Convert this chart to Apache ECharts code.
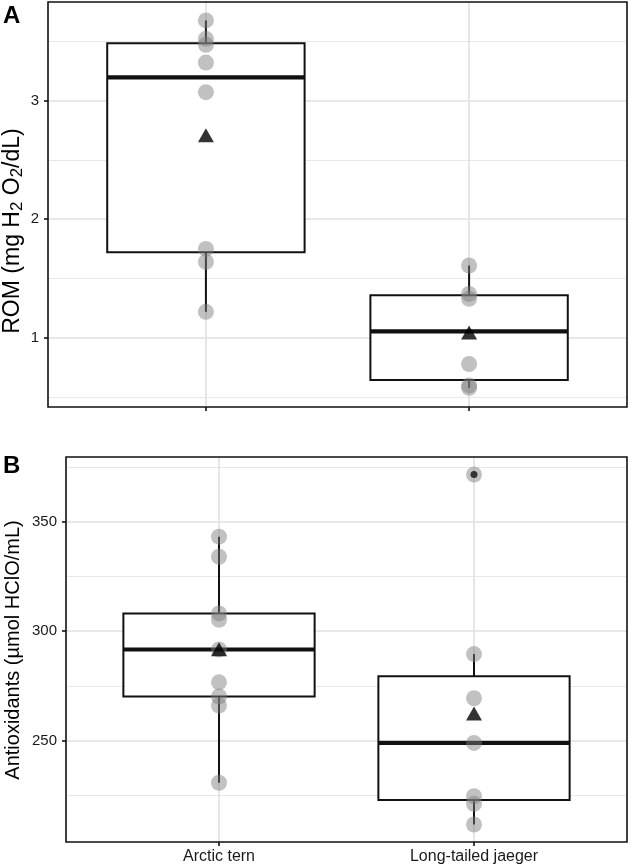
<!DOCTYPE html>
<html>
<head>
<meta charset="utf-8">
<script src="https://cdn.jsdelivr.net/npm/echarts@6/dist/echarts.min.js"></script>
<style>
html,body{margin:0;padding:0;background:#fff;}
#chart{width:633px;height:868px;}
</style>
</head>
<body>
<div id="chart"></div>
<script>
// ---- data ----
const categories = ['Arctic tern', 'Long-tailed jaeger'];
const romTern = [3.675, 3.52, 3.47, 3.32, 3.07, 1.75, 1.64, 1.22];
const romJaeger = [1.61, 1.37, 1.33, 0.78, 0.60, 0.58];
const antiTern = [343.2, 334.0, 308.1, 305.2, 291.6, 276.6, 270.1, 266.0, 230.7];
const antiJaeger = [371.6, 289.5, 269.3, 248.9, 224.5, 221.1, 211.6];
const romTicks = [1, 2, 3];
const romMinor = [0.5, 1.5, 2.5, 3.5];
const antiTicks = [250, 300, 350];
const antiMinor = [225, 275, 325, 375];
const romRange = [0.418, 3.83];
const antiRange = [203.6, 379.6];
const catPos = [1, 2];
const catRange = [0.4, 2.6];

// ---- box statistics (R type-7 quantiles, Tukey whiskers) ----
function quant(s, p) {
  const h = (s.length - 1) * p, lo = Math.floor(h);
  const hi = Math.min(lo + 1, s.length - 1);
  return s[lo] + (h - lo) * (s[hi] - s[lo]);
}
function stats(vals, x) {
  const s = vals.slice().sort((a, b) => a - b);
  const q1 = quant(s, 0.25), med = quant(s, 0.5), q3 = quant(s, 0.75);
  const iqr = q3 - q1;
  const inside = s.filter(v => v >= q1 - 1.5 * iqr && v <= q3 + 1.5 * iqr);
  const out = s.filter(v => v < q1 - 1.5 * iqr || v > q3 + 1.5 * iqr);
  const mean = s.reduce((a, b) => a + b, 0) / s.length;
  return { box: [x, q1, med, q3, inside[0], inside[inside.length - 1]], out: out.map(v => [x, v]), mean: [x, mean] };
}

const FONT = "'Liberation Sans', Arial, Helvetica, sans-serif";
const INK = '#111';

function boxRender(params, api) {
  const x = api.value(0);
  const q1 = api.value(1), med = api.value(2), q3 = api.value(3), lo = api.value(4), hi = api.value(5);
  const w = api.size([0.75, 0])[0];
  const pQ3 = api.coord([x, q3]), pQ1 = api.coord([x, q1]), pM = api.coord([x, med]);
  const pLo = api.coord([x, lo]), pHi = api.coord([x, hi]);
  const left = pQ3[0] - w / 2;
  return {
    type: 'group',
    children: [
      { type: 'line', shape: { x1: pHi[0], y1: pHi[1], x2: pQ3[0], y2: pQ3[1] }, style: { stroke: INK, lineWidth: 2 } },
      { type: 'line', shape: { x1: pLo[0], y1: pLo[1], x2: pQ1[0], y2: pQ1[1] }, style: { stroke: INK, lineWidth: 2 } },
      { type: 'rect', shape: { x: left, y: pQ3[1], width: w, height: pQ1[1] - pQ3[1] }, style: { fill: '#fff', stroke: INK, lineWidth: 2 } },
      { type: 'line', shape: { x1: left, y1: pM[1], x2: left + w, y2: pM[1] }, style: { stroke: INK, lineWidth: 4.2 } }
    ]
  };
}
function frameRender(params, api) {
  const c = params.coordSys;
  return { type: 'rect', shape: { x: c.x, y: c.y, width: c.width, height: c.height }, style: { fill: 'none', stroke: INK, lineWidth: 1.6 } };
}

function gridLines(major, minor) {
  const d = [];
  major.forEach(v => d.push({ yAxis: v, lineStyle: { color: '#e0e0e0', width: 1.6, type: 'solid' } }));
  minor.forEach(v => d.push({ yAxis: v, lineStyle: { color: '#e8e8e8', width: 1.2, type: 'solid' } }));
  catPos.forEach(v => d.push({ xAxis: v, lineStyle: { color: '#e0e0e0', width: 1.6, type: 'solid' } }));
  return d;
}

function panelSeries(idx, groups, major, minor) {
  const st = groups.map((g, i) => stats(g, catPos[i]));
  const pts = [];
  groups.forEach((g, i) => g.forEach(v => pts.push([catPos[i], v])));
  return [
    { type: 'scatter', xAxisIndex: idx, yAxisIndex: idx, data: [], z: 1, silent: true,
      markLine: { z: 1, zlevel: 0, silent: true, symbol: ['none', 'none'], label: { show: false }, animation: false, data: gridLines(major, minor) } },
    { type: 'custom', xAxisIndex: idx, yAxisIndex: idx, z: 2, renderItem: boxRender, data: st.map(s => s.box), silent: true },
    { type: 'scatter', xAxisIndex: idx, yAxisIndex: idx, z: 3, symbol: 'circle', symbolSize: 16, silent: true,
      itemStyle: { color: 'rgba(125,125,125,0.6)' }, data: pts },
    { type: 'scatter', xAxisIndex: idx, yAxisIndex: idx, z: 4, symbol: 'circle', symbolSize: 7, silent: true,
      itemStyle: { color: '#111' }, data: [].concat(...st.map(s => s.out)) },
    { type: 'scatter', xAxisIndex: idx, yAxisIndex: idx, z: 5, symbol: 'triangle', symbolSize: [16, 14], silent: true,
      itemStyle: { color: '#000' }, data: st.map(s => s.mean) },
    { type: 'custom', xAxisIndex: idx, yAxisIndex: idx, z: 6, renderItem: frameRender, data: [[1, major[0]]], silent: true, clip: false }
  ];
}

const subRich = (base) => ({ sub: { fontSize: Math.round(base * 0.72), fontFamily: FONT, padding: [Math.round(base * 0.35), 0, 0, 0] } });

const chart = echarts.init(document.getElementById('chart'), null, { renderer: 'canvas' });
chart.setOption({
  animation: false,
  backgroundColor: '#fff',
  textStyle: { fontFamily: FONT },
  grid: [
    { left: 48, top: 2, right: 6, height: 405, show: true, backgroundColor: '#fff', borderWidth: 0 },
    { left: 66, top: 457, right: 6, bottom: 26, show: true, backgroundColor: '#fff', borderWidth: 0 }
  ],
  xAxis: [0, 1].map(i => ({
    type: 'value', gridIndex: i, min: catRange[0], max: catRange[1],
    axisLine: { show: false },
    splitLine: { show: false },
    axisTick: { show: true, customValues: catPos, length: 4, lineStyle: { color: INK, width: 1.6 } },
    axisLabel: { show: i === 1, customValues: catPos, margin: 7, fontSize: 16, color: '#1a1a1a', fontFamily: FONT,
      formatter: v => categories[catPos.indexOf(v)] || '' }
  })),
  yAxis: [
    { type: 'value', gridIndex: 0, min: romRange[0], max: romRange[1],
      axisLine: { show: false }, splitLine: { show: false },
      axisTick: { show: true, customValues: romTicks, length: 4, lineStyle: { color: INK, width: 1.6 } },
      axisLabel: { customValues: romTicks, margin: 9, fontSize: 15, color: '#1a1a1a', fontFamily: FONT } },
    { type: 'value', gridIndex: 1, min: antiRange[0], max: antiRange[1],
      axisLine: { show: false }, splitLine: { show: false },
      axisTick: { show: true, customValues: antiTicks, length: 4, lineStyle: { color: INK, width: 1.6 } },
      axisLabel: { customValues: antiTicks, margin: 9, fontSize: 15, color: '#1a1a1a', fontFamily: FONT } }
  ],
  graphic: [
    { type: 'text', left: 3, top: 4, style: { text: 'A', font: 'bold 24px ' + FONT, fill: '#000' } },
    { type: 'text', left: 3, top: 454, style: { text: 'B', font: 'bold 24px ' + FONT, fill: '#000' } },
    { type: 'text', x: 13, y: 231, rotation: Math.PI / 2,
      style: { text: 'ROM (mg H{sub|2} O{sub|2}/dL)', font: '23px ' + FONT, fill: '#000', align: 'center', verticalAlign: 'middle',
        rich: subRich(23) } },
    { type: 'text', x: 13, y: 650, rotation: Math.PI / 2,
      style: { text: 'Antioxidants (µmol HClO/mL)', font: '20px ' + FONT, fill: '#000', align: 'center', verticalAlign: 'middle' } }
  ],
  series: [].concat(panelSeries(0, [romTern, romJaeger], romTicks, romMinor),
                    panelSeries(1, [antiTern, antiJaeger], antiTicks, antiMinor))
});
</script>
</body>
</html>
